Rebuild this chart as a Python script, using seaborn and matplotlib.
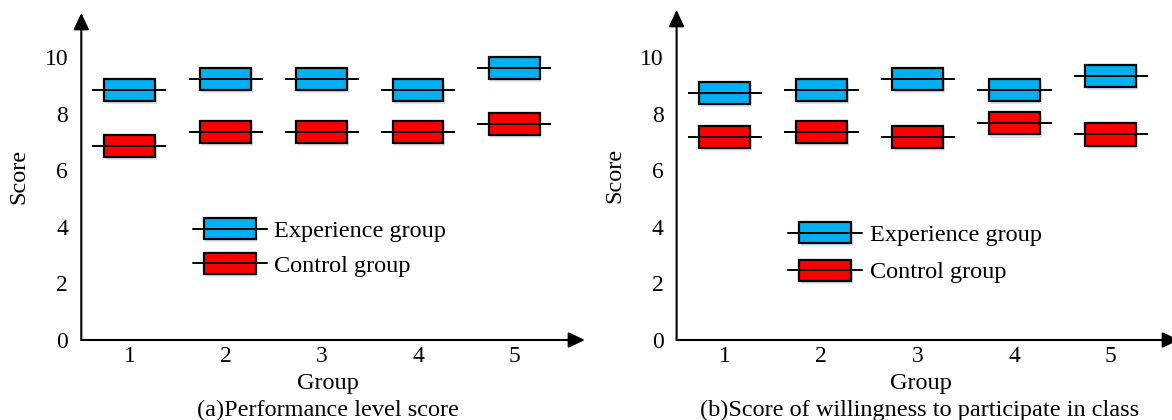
import numpy as np
import matplotlib
matplotlib.use("Agg")
import matplotlib.pyplot as plt
import matplotlib.patheffects as pe
from matplotlib.patches import Patch, Rectangle
from matplotlib.lines import Line2D
from matplotlib.legend_handler import HandlerBase
import seaborn as sns

# ---------------- data ----------------
groups = ["1", "2", "3", "4", "5"]
series_names = ["Experience group", "Control group"]

# (a) Performance level score: mean and half box height
perf_exp_mean = [8.83, 9.22, 9.22, 8.83, 9.61]
perf_exp_sd = [0.39, 0.39, 0.39, 0.39, 0.39]
perf_ctl_mean = [6.87, 7.36, 7.36, 7.36, 7.65]
perf_ctl_sd = [0.39, 0.39, 0.39, 0.39, 0.39]

# (b) Score of willingness to participate in class
will_exp_mean = [8.73, 8.83, 9.22, 8.83, 9.33]
will_exp_sd = [0.39, 0.39, 0.39, 0.39, 0.39]
will_ctl_mean = [7.17, 7.37, 7.17, 7.66, 7.27]
will_ctl_sd = [0.39, 0.39, 0.39, 0.39, 0.39]

y_ticks = [0, 2, 4, 6, 8, 10]
captions = ["(a)Performance level score",
            "(b)Score of willingness to participate in class"]
x_label = "Group"
y_label = "Score"

# ---------------- style ----------------
sns.set_theme(style="white")
plt.rcParams["font.family"] = ["Liberation Serif", "DejaVu Serif"]
plt.rcParams["text.color"] = "black"
plt.rcParams["axes.labelcolor"] = "black"
plt.rcParams["xtick.color"] = "black"
plt.rcParams["ytick.color"] = "black"

EXP_COLOR = "#00B0F0"
CTL_COLOR = "#FF0000"
BOX_W = 0.53
LINE_HALF = 0.385
FS_TICK = 17
FS_TEXT = 17.5

shadow = [pe.SimplePatchShadow(offset=(1.2, -2.2), shadow_rgbFace="#9db4d6", alpha=0.35),
          pe.Normal()]


class BoxLineHandler(HandlerBase):
    def create_artists(self, legend, orig_handle, xdescent, ydescent,
                       width, height, fontsize, trans):
        face = orig_handle.get_facecolor()
        bw = width * 0.70
        x0 = -xdescent + (width - bw) / 2
        rect = Rectangle((x0, -ydescent), bw, height, facecolor=face,
                         edgecolor="black", lw=1.6, transform=trans)
        rect.set_path_effects(shadow)
        line = Line2D([-xdescent, -xdescent + width],
                      [-ydescent + height / 2] * 2, color="black", lw=1.4,
                      transform=trans)
        return [rect, line]


fig = plt.figure(figsize=(11.72, 4.2), dpi=100)

panels = [
    dict(rect=[81.3 / 1172, 80 / 420, 503.7 / 1172, 327 / 420],
         xlim=(-0.5, -0.5 + 503.7 / 96.2), ylim=(0, 327 / 28.27),
         exp=(perf_exp_mean, perf_exp_sd), ctl=(perf_ctl_mean, perf_ctl_sd),
         cap=captions[0], ylab_x=-0.124, xlab=(0.4898, -0.1498),
         capxy=(0.489, -0.2324), leg=(0.221, 0.283), lsp=0.45),
    dict(rect=[676.6 / 1172, 80 / 420, 502.4 / 1172, 330 / 420],
         xlim=(-0.5, -0.5 + 502.4 / 96.5), ylim=(0, 330 / 28.27),
         exp=(will_exp_mean, will_exp_sd), ctl=(will_ctl_mean, will_ctl_sd),
         cap=captions[1], ylab_x=-0.1236, xlab=(0.4865, -0.1485),
         capxy=(0.4845, -0.2303), leg=(0.222, 0.264), lsp=0.55),
]

for p in panels:
    ax = fig.add_axes(p["rect"])
    xs = np.arange(len(groups))
    for (mean, sd), col in [(p["exp"], EXP_COLOR), (p["ctl"], CTL_COLOR)]:
        mean = np.asarray(mean)
        sd = np.asarray(sd)
        sns.barplot(x=groups, y=2 * sd, bottom=mean - sd, color=col,
                    saturation=1, width=BOX_W, edgecolor="black",
                    linewidth=1.6, errorbar=None, ax=ax, zorder=2)
        ax.hlines(mean, xs - LINE_HALF, xs + LINE_HALF, colors="black",
                  lw=1.4, zorder=3)
    for patch in ax.patches:
        patch.set_path_effects(shadow)

    ax.set_xlim(*p["xlim"])
    ax.set_ylim(*p["ylim"])
    ax.set_yticks(y_ticks)
    ax.set_xticks(xs)
    ax.set_xticklabels(groups)
    ax.set_xticks(np.arange(0.5, len(groups), 1.0), minor=True)
    ax.tick_params(axis="x", which="major", length=0, pad=4.5,
                   labelsize=FS_TICK)
    ax.tick_params(axis="x", which="minor", direction="in", length=5.8,
                   width=1.1)
    ax.tick_params(axis="y", direction="in", length=5.8, width=1.1,
                   pad=9.5, labelsize=FS_TICK)
    for s in ax.spines.values():
        s.set_visible(False)

    arrow = dict(arrowstyle="-|>,head_length=1.0,head_width=0.47",
                 mutation_scale=10, lw=1.5, color="black",
                 shrinkA=0, shrinkB=0)
    ax.annotate("", xy=(1, 0), xytext=(0, 0), xycoords="axes fraction",
                textcoords="axes fraction", arrowprops=arrow,
                annotation_clip=False)
    ax.annotate("", xy=(0, 1), xytext=(0, 0), xycoords="axes fraction",
                textcoords="axes fraction", arrowprops=arrow,
                annotation_clip=False)

    ax.set_ylabel(y_label, fontsize=FS_TEXT, va="center")
    ax.yaxis.set_label_coords(p["ylab_x"], 0.5)
    ax.set_xlabel(x_label, fontsize=FS_TEXT, va="baseline")
    ax.xaxis.set_label_coords(*p["xlab"])
    ax.text(p["capxy"][0], p["capxy"][1], p["cap"], transform=ax.transAxes,
            ha="center", va="baseline", fontsize=FS_TEXT)

    handles = [Patch(facecolor=EXP_COLOR), Patch(facecolor=CTL_COLOR)]
    ax.legend(handles, series_names, loc="center left",
              bbox_to_anchor=p["leg"], frameon=False, fontsize=FS_TEXT,
              handler_map={Patch: BoxLineHandler()}, handlelength=3.05,
              handleheight=0.95, handletextpad=0.3, labelspacing=p["lsp"],
              borderpad=0, borderaxespad=0)

fig.savefig("out.png", dpi=100)
